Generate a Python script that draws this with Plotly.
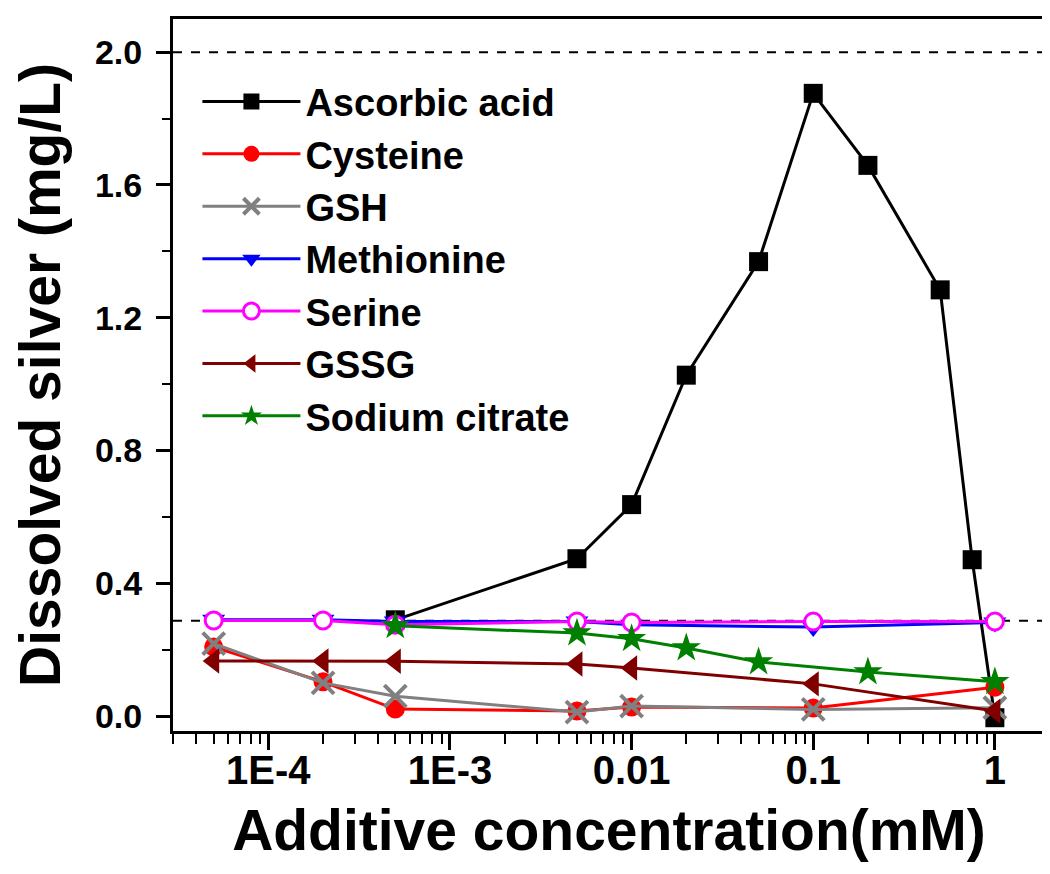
import plotly.graph_objects as go

# ---------------- data ----------------
x_ascorbic = [5e-4, 0.005, 0.01, 0.02, 0.05, 0.1, 0.2, 0.5, 0.75, 1]
y_ascorbic = [0.290, 0.474, 0.637, 1.027, 1.369, 1.876, 1.659, 1.284, 0.471, -0.005]

x_common = [5e-5, 2e-4, 5e-4, 0.005, 0.01, 0.1, 1]
y_cysteine = [0.208, 0.103, 0.021, 0.015, 0.027, 0.024, 0.087]
y_gsh = [0.218, 0.100, 0.060, 0.012, 0.030, 0.020, 0.025]
y_methionine = [0.290, 0.290, 0.285, 0.285, 0.275, 0.268, 0.282]
y_serine = [0.288, 0.288, 0.275, 0.285, 0.282, 0.285, 0.285]
y_gssg = [0.166, 0.166, 0.165, 0.157, 0.145, 0.097, 0.015]

x_citrate = [5e-4, 0.005, 0.01, 0.02, 0.05, 0.2, 1]
y_citrate = [0.272, 0.250, 0.233, 0.205, 0.163, 0.133, 0.103]

ref_levels = [2.0, 0.287]

x_tickvals = [1e-4, 1e-3, 0.01, 0.1, 1]
x_ticktext = ["1E-4", "1E-3", "0.01", "0.1", "1"]

FONT = "Liberation Sans, Arial, sans-serif"

series = [
    ("Ascorbic acid", x_ascorbic, y_ascorbic, "black", dict(symbol="square", size=19, color="black")),
    ("Cysteine", x_common, y_cysteine, "#ff0000", dict(symbol="circle", size=19, color="#ff0000")),
    ("GSH", x_common, y_gsh, "#808080", dict(symbol="x-thin-open", size=22, color="#808080",
                                              line=dict(width=4, color="#808080"))),
    ("Methionine", x_common, y_methionine, "#0000ff", dict(symbol="triangle-down", size=20, color="#0000ff")),
    ("Serine", x_common, y_serine, "#ff00ff", dict(symbol="circle", size=17, color="white",
                                                  line=dict(width=3, color="#ff00ff"))),
    ("GSSG", x_common, y_gssg, "#800000", dict(symbol="triangle-left", size=22, color="#800000")),
    ("Sodium citrate", x_citrate, y_citrate, "#008000", dict(symbol="star", size=22, color="#008000")),
]

fig = go.Figure()
for name, xs, ys, col, mk in series:
    fig.add_trace(go.Scatter(x=xs, y=ys, name=name, mode="lines+markers",
                             line=dict(color=col, width=3), marker=mk, cliponaxis=False))

for lv in ref_levels:
    fig.add_shape(type="line", xref="paper", x0=0, x1=1, yref="y", y0=lv, y1=lv,
                  line=dict(color="black", width=2, dash="dash"), layer="below")

fig.update_layout(
    width=1050, height=874,
    margin=dict(l=165, r=13, t=11, b=151, autoexpand=False),
    paper_bgcolor="white", plot_bgcolor="white",
    font=dict(family=FONT, color="black", weight="bold"),
    showlegend=True,
    legend=dict(x=0.028, y=0.928, xanchor="left", yanchor="top",
                font=dict(family=FONT, size=38, color="black", weight="bold"),
                bgcolor="rgba(0,0,0,0)", itemwidth=98, tracegroupgap=0),
)

fig.update_xaxes(
    type="log", range=[-4.525, 0.276], automargin=False,
    tickvals=x_tickvals, ticktext=x_ticktext,
    ticks="outside", ticklen=16, tickwidth=3, tickcolor="black",
    ticklabelstandoff=-14,
    minor=dict(ticks="outside", ticklen=10, tickwidth=2, tickcolor="black", dtick="D1", showgrid=False),
    showline=True, linewidth=3, linecolor="black", mirror=True,
    showgrid=False, zeroline=False,
    tickfont=dict(family=FONT, size=40, color="black", weight="bold"),
    title=dict(text="Additive concentration(mM)", standoff=20,
               font=dict(family=FONT, size=57, color="black", weight="bold")),
)

fig.update_yaxes(
    range=[-0.045, 2.10], automargin=False,
    tickmode="linear", tick0=0, dtick=0.4, tickformat=".1f",
    ticks="outside", ticklen=14, tickwidth=3, tickcolor="black",
    ticklabelstandoff=7,
    minor=dict(ticks="outside", ticklen=8, tickwidth=2, tickcolor="black", dtick=0.2, showgrid=False),
    showline=True, linewidth=3, linecolor="black", mirror=True,
    showgrid=False, zeroline=False,
    tickfont=dict(family=FONT, size=34, color="black", weight="bold"),
    title=dict(text="Dissolved silver (mg/L)", standoff=24,
               font=dict(family=FONT, size=57, color="black", weight="bold")),
)

fig.write_html("out.html")
